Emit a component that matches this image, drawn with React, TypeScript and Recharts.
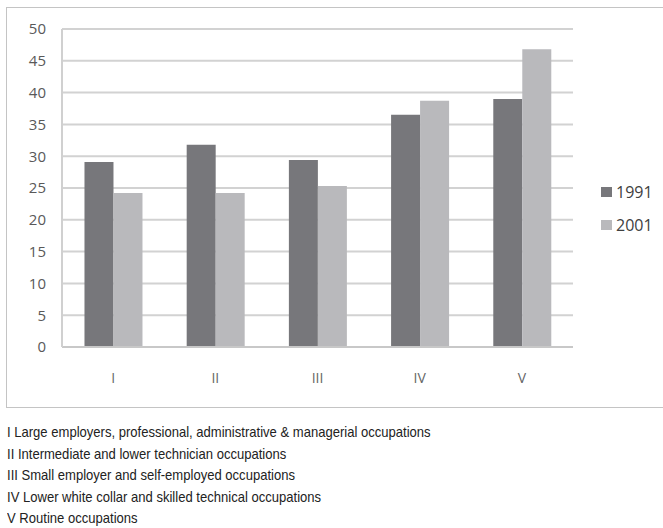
import { BarChart, Bar, XAxis, YAxis, CartesianGrid } from 'recharts'

const categories = ['I', 'II', 'III', 'IV', 'V']
const values1991 = [29.1, 31.8, 29.4, 36.5, 39.0]
const values2001 = [24.2, 24.2, 25.3, 38.7, 46.8]
const yTicks = [0, 5, 10, 15, 20, 25, 30, 35, 40, 45, 50]
const footnotes = [
  'I Large employers, professional, administrative & managerial occupations',
  'II Intermediate and lower technician occupations',
  'III Small employer and self-employed occupations',
  'IV Lower white collar and skilled technical occupations',
  'V Routine occupations',
]

const series = [
  { key: 'y1991', name: '1991', color: '#77777b' },
  { key: 'y2001', name: '2001', color: '#b9b9bc' },
]

const data = categories.map((c, i) => ({
  cat: c,
  y1991: values1991[i],
  y2001: values2001[i],
}))

// legend drawn beside the chart so it doesn't eat plot space
const LegendBox = () => (
  <div style={{
    position: 'absolute', left: 601, top: 175,
    fontFamily: '"Open Sans", sans-serif', fontSize: 16, color: '#404040'
  }}>
    {series.map((s) => (
      <div key={s.key} style={{ display: 'flex', alignItems: 'center', height: 33 }}>
        <span style={{ width: 11, height: 10, background: s.color, marginRight: 4 }} />
        <span>{s.name}</span>
      </div>
    ))}
  </div>
)

export default function App() {
  return (
    <div style={{ position: 'absolute', left: 0, top: 0, width: 663, height: 528, background: '#fff', overflow: 'hidden' }}>
      <div style={{
        position: 'absolute', left: 6, top: 7, width: 700, height: 401,
        border: '1.5px solid #c4c4c4', boxSizing: 'border-box'
      }} />
      <div style={{ position: 'absolute', left: 0, top: 0 }}>
        <BarChart
          width={663}
          height={410}
          data={data}
          margin={{ top: 29, right: 90, left: 0, bottom: 23 }}
          barCategoryGap="22%"
          barGap={0}
        >
          <CartesianGrid vertical={false} stroke="#d2d2d2" strokeWidth={2} />
          <XAxis
            dataKey="cat"
            height={40}
            tickLine={false}
            tickMargin={20}
            axisLine={{ stroke: '#c8c8c8', strokeWidth: 2 }}
            tick={{ fill: '#666', fontSize: 14, fontFamily: '"Open Sans", sans-serif' }}
          />
          <YAxis
            width={62}
            domain={[0, 50]}
            ticks={yTicks}
            interval={0}
            tickLine={false}
            tickMargin={10}
            axisLine={{ stroke: '#d0d0d0', strokeWidth: 2 }}
            tick={{ fill: '#595959', fontSize: 15, fontFamily: '"Open Sans", sans-serif' }}
          />
          {series.map((s) => (
            <Bar key={s.key} dataKey={s.key} name={s.name} fill={s.color} isAnimationActive={false} />
          ))}
        </BarChart>
      </div>
      <LegendBox />
      <div style={{
        position: 'absolute', left: 7, top: 421, width: 800,
        fontFamily: '"Liberation Sans", Arial, sans-serif', fontSize: 15, lineHeight: '21.5px',
        color: '#222', transform: 'scaleX(0.87)', transformOrigin: 'left top'
      }}>
        {footnotes.map((f) => (
          <div key={f}>{f}</div>
        ))}
      </div>
    </div>
  )
}
